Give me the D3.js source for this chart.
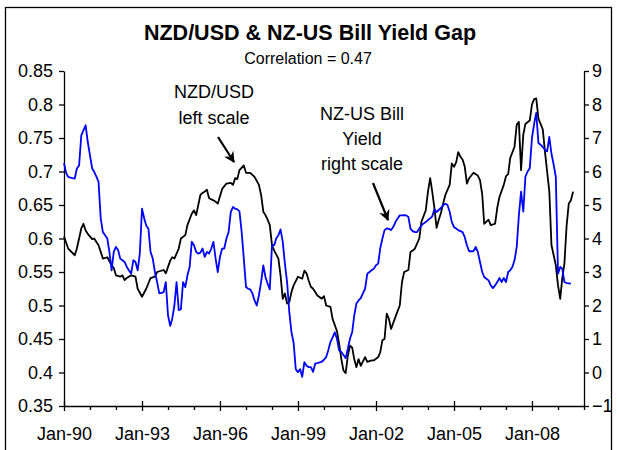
<!DOCTYPE html>
<html>
<head>
<meta charset="utf-8">
<script src="https://cdn.jsdelivr.net/npm/d3@7"></script>
<style>
  body { margin: 0; background: #fff; }
  text { font-family: "Liberation Sans", Arial, sans-serif; fill: #000; }
</style>
</head>
<body>
<svg id="chart" width="617" height="450"></svg>
<script>
// NZD/USD, left scale (monthly)
const nzdusd = [
  ["1990-01",0.603],["1990-03",0.585],["1990-06",0.575],["1990-07",0.585],["1990-09",0.615],
  ["1990-10",0.622],["1990-11",0.612],["1990-12",0.607],["1991-02",0.599],["1991-03",0.600],
  ["1991-05",0.590],["1991-06",0.580],["1991-07",0.570],["1991-09",0.572],["1991-11",0.560],
  ["1991-12",0.556],["1992-01",0.545],["1992-03",0.543],["1992-04",0.545],["1992-05",0.538],
  ["1992-06",0.541],["1992-08",0.545],["1992-10",0.543],["1992-11",0.525],["1993-01",0.513],
  ["1993-03",0.525],["1993-05",0.541],["1993-07",0.543],["1993-08",0.550],["1993-11",0.553],
  ["1993-12",0.548],["1994-02",0.567],["1994-03",0.572],["1994-04",0.570],["1994-06",0.585],
  ["1994-07",0.600],["1994-09",0.605],["1994-10",0.620],["1994-12",0.637],["1995-01",0.642],
  ["1995-02",0.635],["1995-04",0.665],["1995-05",0.668],["1995-06",0.670],["1995-07",0.673],
  ["1995-08",0.660],["1995-10",0.657],["1995-11",0.655],["1995-12",0.652],["1996-02",0.674],
  ["1996-04",0.682],["1996-06",0.683],["1996-07",0.680],["1996-08",0.690],["1996-09",0.689],
  ["1996-10",0.702],["1996-12",0.709],["1997-01",0.698],["1997-03",0.698],["1997-05",0.692],
  ["1997-07",0.680],["1997-08",0.665],["1997-09",0.640],["1997-10",0.635],["1997-11",0.628],
  ["1997-12",0.620],["1998-01",0.590],["1998-02",0.582],["1998-04",0.570],["1998-05",0.545],
  ["1998-06",0.510],["1998-07",0.518],["1998-08",0.503],["1998-09",0.505],["1998-10",0.520],
  ["1998-11",0.530],["1999-01",0.543],["1999-03",0.540],["1999-04",0.552],["1999-05",0.548],
  ["1999-06",0.537],["1999-07",0.528],["1999-08",0.525],["1999-10",0.515],["1999-12",0.510],
  ["2000-01",0.514],["2000-02",0.500],["2000-04",0.498],["2000-05",0.480],["2000-07",0.462],
  ["2000-08",0.443],["2000-09",0.420],["2000-10",0.403],["2000-11",0.399],["2000-12",0.425],
  ["2001-01",0.440],["2001-02",0.437],["2001-03",0.420],["2001-04",0.408],["2001-05",0.420],
  ["2001-06",0.410],["2001-08",0.423],["2001-09",0.416],["2001-11",0.418],["2001-12",0.418],
  ["2002-02",0.423],["2002-03",0.430],["2002-04",0.448],["2002-05",0.450],["2002-06",0.488],
  ["2002-07",0.480],["2002-08",0.465],["2002-10",0.483],["2002-12",0.500],["2003-01",0.535],
  ["2003-02",0.550],["2003-04",0.553],["2003-05",0.580],["2003-06",0.582],["2003-07",0.585],
  ["2003-09",0.600],["2003-10",0.625],["2003-12",0.642],["2004-01",0.670],["2004-02",0.690],
  ["2004-03",0.670],["2004-04",0.645],["2004-05",0.616],["2004-06",0.628],["2004-07",0.638],
  ["2004-08",0.652],["2004-09",0.665],["2004-11",0.680],["2004-12",0.712],["2005-01",0.707],
  ["2005-02",0.714],["2005-03",0.729],["2005-04",0.722],["2005-05",0.718],["2005-06",0.707],
  ["2005-07",0.682],["2005-08",0.690],["2005-09",0.694],["2005-10",0.698],["2005-12",0.694],
  ["2006-01",0.687],["2006-02",0.666],["2006-03",0.622],["2006-05",0.628],["2006-06",0.620],
  ["2006-08",0.622],["2006-09",0.646],["2006-10",0.662],["2006-12",0.680],["2007-01",0.693],
  ["2007-02",0.696],["2007-03",0.720],["2007-05",0.737],["2007-06",0.770],["2007-07",0.774],
  ["2007-08",0.702],["2007-09",0.755],["2007-10",0.771],["2007-12",0.776],["2008-01",0.800],
  ["2008-02",0.808],["2008-03",0.809],["2008-04",0.779],["2008-06",0.763],["2008-07",0.730],
  ["2008-08",0.700],["2008-09",0.670],["2008-10",0.590],["2008-11",0.575],["2008-12",0.560],
  ["2009-01",0.530],["2009-02",0.510],["2009-03",0.540],["2009-04",0.563],["2009-05",0.618],
  ["2009-06",0.652],["2009-07",0.657],["2009-08",0.670]
];

// NZ-US bill yield gap, right scale (% points)
const yieldGap = [
  ["1990-01",6.25],["1990-02",5.95],["1990-03",5.84],["1990-04",5.82],["1990-05",5.80],
  ["1990-06",5.79],["1990-07",6.09],["1990-08",6.18],["1990-09",7.08],["1990-10",7.23],
  ["1990-11",7.38],["1990-12",6.88],["1991-01",6.48],["1991-02",6.09],["1991-03",5.99],
  ["1991-04",5.85],["1991-05",5.69],["1991-06",4.60],["1991-07",4.19],["1991-08",4.10],
  ["1991-09",4.00],["1991-10",3.60],["1991-11",3.05],["1991-12",3.60],["1992-01",3.75],
  ["1992-02",3.65],["1992-03",3.40],["1992-04",3.35],["1992-05",3.30],["1992-06",3.15],
  ["1992-07",3.05],["1992-08",2.95],["1992-09",3.35],["1992-10",3.30],["1992-11",3.05],
  ["1992-12",3.55],["1993-01",4.89],["1993-02",4.60],["1993-03",4.39],["1993-04",4.29],
  ["1993-05",3.60],["1993-06",3.40],["1993-07",3.00],["1993-08",2.70],["1993-09",2.36],
  ["1993-10",2.38],["1993-11",2.40],["1993-12",2.70],["1994-01",1.71],["1994-02",1.39],
  ["1994-03",1.60],["1994-04",2.00],["1994-05",2.70],["1994-06",1.86],["1994-07",1.89],
  ["1994-08",2.70],["1994-09",2.55],["1994-10",2.90],["1994-11",3.15],["1994-12",3.90],
  ["1995-01",3.80],["1995-02",3.60],["1995-03",3.55],["1995-04",3.58],["1995-05",3.70],
  ["1995-06",3.45],["1995-07",3.60],["1995-08",3.55],["1995-09",3.70],["1995-10",3.90],
  ["1995-11",3.40],["1995-12",3.00],["1996-01",3.45],["1996-02",3.70],["1996-03",3.70],
  ["1996-04",4.00],["1996-05",4.19],["1996-06",4.79],["1996-07",4.94],["1996-08",4.89],
  ["1996-09",4.87],["1996-10",4.81],["1996-11",4.19],["1996-12",3.40],["1997-01",2.55],
  ["1997-02",2.50],["1997-03",2.48],["1997-04",2.36],["1997-05",2.15],["1997-06",2.00],
  ["1997-07",2.30],["1997-08",2.70],["1997-09",3.20],["1997-10",2.85],["1997-11",2.65],
  ["1997-12",2.48],["1998-01",3.80],["1998-02",3.80],["1998-03",4.00],["1998-04",4.10],
  ["1998-05",4.27],["1998-06",3.90],["1998-07",3.25],["1998-08",2.70],["1998-09",1.80],
  ["1998-10",1.21],["1998-11",0.88],["1998-12",0.10],["1999-01",0.01],["1999-02",0.10],
  ["1999-03",-0.13],["1999-04",0.31],["1999-05",0.20],["1999-06",0.16],["1999-07",0.16],
  ["1999-08",0.02],["1999-09",0.27],["1999-10",0.28],["1999-11",0.30],["1999-12",0.32],
  ["2000-01",0.38],["2000-02",0.46],["2000-03",0.66],["2000-04",0.91],["2000-05",1.05],
  ["2000-06",1.20],["2000-07",1.01],["2000-08",0.66],["2000-09",0.61],["2000-10",0.52],
  ["2000-11",0.43],["2000-12",0.71],["2001-01",1.01],["2001-02",1.21],["2001-03",1.70],
  ["2001-04",2.06],["2001-05",2.15],["2001-06",2.22],["2001-07",2.36],["2001-08",2.50],
  ["2001-09",2.95],["2001-10",3.00],["2001-11",3.05],["2001-12",3.10],["2002-01",3.20],
  ["2002-02",3.25],["2002-03",3.70],["2002-04",4.00],["2002-05",4.25],["2002-06",4.30],
  ["2002-07",4.29],["2002-08",4.25],["2002-09",4.35],["2002-10",4.49],["2002-11",4.60],
  ["2002-12",4.69],["2003-01",4.69],["2003-02",4.70],["2003-03",4.69],["2003-04",4.64],
  ["2003-05",4.29],["2003-06",4.22],["2003-07",4.19],["2003-08",4.19],["2003-09",4.30],
  ["2003-10",4.39],["2003-11",4.45],["2003-12",4.49],["2004-01",4.55],["2004-02",4.60],
  ["2004-03",4.66],["2004-04",4.87],["2004-05",4.79],["2004-06",4.85],["2004-07",4.91],
  ["2004-08",4.99],["2004-09",5.04],["2004-10",5.00],["2004-11",4.80],["2004-12",4.49],
  ["2005-01",4.34],["2005-02",4.30],["2005-03",4.25],["2005-04",4.22],["2005-05",4.19],
  ["2005-06",4.04],["2005-07",3.80],["2005-08",3.62],["2005-09",3.62],["2005-10",3.62],
  ["2005-11",3.75],["2005-12",3.60],["2006-01",3.30],["2006-02",3.00],["2006-03",2.85],
  ["2006-04",2.80],["2006-05",2.75],["2006-06",2.60],["2006-07",2.52],["2006-08",2.60],
  ["2006-09",2.70],["2006-10",2.82],["2006-11",2.70],["2006-12",2.82],["2007-01",2.70],
  ["2007-02",3.00],["2007-03",3.05],["2007-04",3.15],["2007-05",3.35],["2007-06",3.75],
  ["2007-07",4.69],["2007-08",5.40],["2007-09",4.80],["2007-10",5.85],["2007-11",6.00],
  ["2007-12",6.10],["2008-01",7.00],["2008-02",7.43],["2008-03",7.75],["2008-04",6.85],
  ["2008-05",6.80],["2008-06",6.73],["2008-07",6.65],["2008-08",6.60],["2008-09",7.03],
  ["2008-10",6.53],["2008-11",6.20],["2008-12",5.84],["2009-01",2.95],["2009-02",3.15],
  ["2009-03",3.10],["2009-04",2.70],["2009-05",2.67],["2009-06",2.66],["2009-07",2.65]
];

const leftTicks = [0.35,0.4,0.45,0.5,0.55,0.6,0.65,0.7,0.75,0.8,0.85];
const rightTicks = [-1,0,1,2,3,4,5,6,7,8,9];
const labelYears = [1990,1993,1996,1999,2002,2005,2008];
const minorYears = [1991,1992,1994,1995,1997,1998,2000,2001,2003,2004,2006,2007,2009,2010];

const svg = d3.select("#chart");
const margin = {top: 71, right: 33, bottom: 44, left: 64};
const W = 617, H = 450;
const parse = d3.timeParse("%Y-%m");

// outer frame
svg.append("rect")
  .attr("x", 5.5).attr("y", 7.5).attr("width", 606).attr("height", 460)
  .attr("fill", "none").attr("stroke", "#000").attr("stroke-width", 1.3);

const x = d3.scaleTime()
  .domain([new Date(1990,0,1), new Date(2010,0,1)])
  .range([margin.left, W - margin.right]);
const yL = d3.scaleLinear().domain([0.35, 0.85]).range([H - margin.bottom, margin.top]);
const yR = d3.scaleLinear().domain([-1, 9]).range([H - margin.bottom, margin.top]);

// titles
svg.append("text").attr("x", 310).attr("y", 40)
  .attr("text-anchor", "middle").attr("font-size", 21.5).attr("font-weight", "bold")
  .text("NZD/USD & NZ-US Bill Yield Gap");
svg.append("text").attr("x", 308).attr("y", 64)
  .attr("text-anchor", "middle").attr("font-size", 16)
  .text("Correlation = 0.47");

// axes
const fmt = d => String(+d.toFixed(2));
const gL = svg.append("g").attr("transform", `translate(${margin.left},0)`)
  .call(d3.axisLeft(yL).tickValues(leftTicks).tickFormat(fmt).tickSize(5).tickSizeOuter(0).tickPadding(6));
const gR = svg.append("g").attr("transform", `translate(${W - margin.right},0)`)
  .call(d3.axisRight(yR).tickValues(rightTicks).tickFormat(d3.format("d")).tickSize(5).tickSizeOuter(0).tickPadding(3));
const gX = svg.append("g").attr("transform", `translate(0,${H - margin.bottom})`)
  .call(d3.axisBottom(x).tickValues(labelYears.map(y => new Date(y,0,1)))
    .tickFormat(d3.timeFormat("%b-%y")).tickSize(5).tickSizeOuter(0).tickPadding(16));
gX.selectAll(".tick line").attr("y1", -5);
const gXm = svg.append("g").attr("transform", `translate(0,${H - margin.bottom})`)
  .call(d3.axisBottom(x).tickValues(minorYears.map(y => new Date(y,0,1)))
    .tickFormat("").tickSize(4).tickSizeOuter(0));
gXm.select(".domain").remove();

[gL, gR, gX, gXm].forEach(g => {
  g.selectAll("path, line").attr("stroke", "#000").attr("stroke-width", 1.3);
  g.selectAll("text").attr("font-size", 18).attr("fill", "#000")
    .style("font-family", '"Liberation Sans", Arial, sans-serif');
});

// series
const lineL = d3.line().x(d => x(parse(d[0]))).y(d => yL(d[1]));
const lineR = d3.line().x(d => x(parse(d[0]))).y(d => yR(d[1]));

svg.append("path").datum(nzdusd)
  .attr("fill", "none").attr("stroke", "#000").attr("stroke-width", 1.8)
  .attr("stroke-linejoin", "round").attr("d", lineL);
svg.append("path").datum(yieldGap)
  .attr("fill", "none").attr("stroke", "#0000ff").attr("stroke-width", 1.8)
  .attr("stroke-linejoin", "round").attr("d", lineR);

// annotations
svg.append("defs").append("marker")
  .attr("id", "arrow").attr("viewBox", "0 0 10 10").attr("refX", 9).attr("refY", 5)
  .attr("markerWidth", 5).attr("markerHeight", 5).attr("orient", "auto")
  .append("path").attr("d", "M0,0 L10,5 L0,10 L3,5 Z").attr("fill", "#000");

function note(lines, cx, y0, step) {
  lines.forEach((t, i) => {
    svg.append("text").attr("x", cx).attr("y", y0 + i * step)
      .attr("text-anchor", "middle").attr("font-size", 18).text(t);
  });
}
note(["NZD/USD", "left scale"], 214, 98, 26);
note(["NZ-US Bill", "Yield", "right scale"], 362, 120, 25);

svg.append("line").attr("x1", 218).attr("y1", 137).attr("x2", 234).attr("y2", 162)
  .attr("stroke", "#000").attr("stroke-width", 2.2).attr("marker-end", "url(#arrow)");
svg.append("line").attr("x1", 373).attr("y1", 183).attr("x2", 388).attr("y2", 220)
  .attr("stroke", "#000").attr("stroke-width", 2.2).attr("marker-end", "url(#arrow)");
</script>
</body>
</html>
